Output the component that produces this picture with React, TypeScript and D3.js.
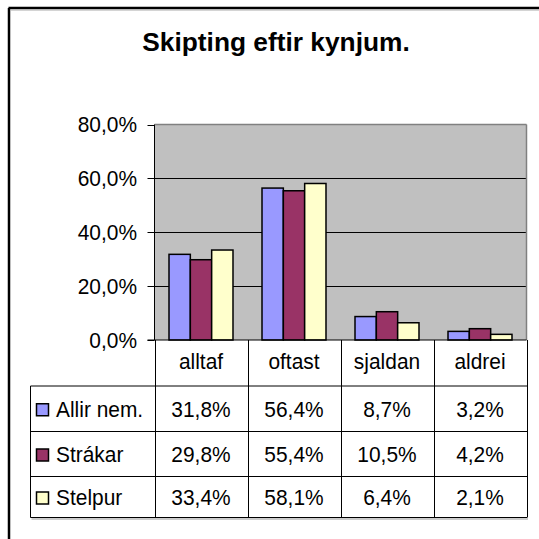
import React from "react";
import * as d3 from "d3";

const title = "Skipting eftir kynjum.";
const categories = ["alltaf", "oftast", "sjaldan", "aldrei"];
const seriesNames = ["Allir nem.", "Strákar", "Stelpur"];
const allirNem = [31.8, 56.4, 8.7, 3.2];
const strakar = [29.8, 55.4, 10.5, 4.2];
const stelpur = [33.4, 58.1, 6.4, 2.1];
const seriesColors = ["#9999FF", "#993366", "#FFFFCC"];
const yTicks = [0, 20, 40, 60, 80];

const seriesValues = [allirNem, strakar, stelpur];

const fmt = (v: number) => v.toFixed(1).replace(".", ",") + "%";

const FS = 22.5;
const SX = 0.93;

function T(props: { x: number; y: number; anchor?: string; children: React.ReactNode; dy?: string }) {
  return (
    <text
      transform={`translate(${props.x},${props.y}) scale(${SX},1)`}
      textAnchor={props.anchor || "start"}
      dy={props.dy}
      fontSize={FS}
    >
      {props.children}
    </text>
  );
}

export default function App() {
  const W = 539;
  const H = 539;
  const plotLeft = 154.5;
  const plotRight = 526.5;
  const plotTop = 124.5;
  const plotBottom = 340;
  const tableLeft = 30.5;
  const rowLines = [386, 431.5, 476.5, 517.5];
  const font = "Arial, 'Liberation Sans', sans-serif";

  const x = d3.scaleBand<string>().domain(categories).range([plotLeft, plotRight]).paddingInner(0).paddingOuter(0);
  const xs = d3
    .scaleBand<string>()
    .domain(seriesNames)
    .range([0, x.bandwidth()])
    .paddingInner(0)
    .paddingOuter(0.68);
  const y = d3.scaleLinear().domain([0, 80]).range([plotBottom, plotTop]);

  const colBounds = [...categories.map((c) => x(c) as number), plotRight];

  return (
    <svg
      width={W}
      height={H}
      style={{ position: "absolute", left: 0, top: 0, background: "#fff" }}
      fontFamily={font}
    >
      {/* outer frame */}
      <line x1={8.5} y1={8} x2={539} y2={8} stroke="#000" strokeWidth={2.5} />
      <line x1={9} y1={8} x2={9} y2={539} stroke="#000" strokeWidth={2.5} />
      <line x1={10.5} y1={10} x2={539} y2={10} stroke="#aaa" strokeWidth={1} />

      <text x={276} y={51} textAnchor="middle" fontSize={26.3} fontWeight="bold">
        {title}
      </text>

      {/* plot area */}
      <rect x={plotLeft} y={plotTop} width={plotRight - plotLeft} height={plotBottom - plotTop} fill="#C0C0C0" />
      {yTicks.map((t) => (
        <g key={t}>
          {t > 0 && t < 80 && (
            <line x1={plotLeft} x2={plotRight} y1={Math.round(y(t)) + 0.5} y2={Math.round(y(t)) + 0.5} stroke="#000" strokeWidth={1} />
          )}
          <line x1={plotLeft - 7} x2={plotLeft} y1={Math.round(y(t)) + 0.5} y2={Math.round(y(t)) + 0.5} stroke="#000" strokeWidth={1} />
          <T x={137} y={y(t)} dy="0.35em" anchor="end">
            {fmt(t)}
          </T>
        </g>
      ))}
      <line x1={plotLeft} x2={plotRight} y1={plotTop} y2={plotTop} stroke="#808080" strokeWidth={1.5} />
      <line x1={plotRight} x2={plotRight} y1={plotTop} y2={plotBottom} stroke="#808080" strokeWidth={1.5} />

      {/* bars */}
      {categories.map((c, ci) =>
        seriesNames.map((s, si) => {
          const v = seriesValues[si][ci];
          const bx = (x(c) as number) + (xs(s) as number);
          return (
            <rect
              key={c + s}
              x={bx}
              y={y(v)}
              width={xs.bandwidth()}
              height={plotBottom - y(v)}
              fill={seriesColors[si]}
              stroke="#000"
              strokeWidth={1.5}
            />
          );
        })
      )}

      <line x1={plotLeft} x2={plotLeft} y1={plotTop} y2={plotBottom} stroke="#000" strokeWidth={1} />
      <line x1={plotLeft - 7} x2={plotRight} y1={plotBottom} y2={plotBottom} stroke="#000" strokeWidth={1.2} />

      {/* data table */}
      {colBounds.map((cx, i) => (
        <line key={"v" + i} x1={Math.round(cx) + 0.5} x2={Math.round(cx) + 0.5} y1={plotBottom} y2={rowLines[3]} stroke="#000" strokeWidth={1} />
      ))}
      <line x1={tableLeft} x2={tableLeft} y1={rowLines[0]} y2={rowLines[3]} stroke="#000" strokeWidth={1} />
      {rowLines.map((ry, i) => (
        <line key={"h" + i} x1={tableLeft} x2={plotRight + 0.5} y1={ry} y2={ry} stroke="#000" strokeWidth={1} />
      ))}
      <line x1={tableLeft + 1} x2={plotRight + 1.5} y1={rowLines[3] + 1.5} y2={rowLines[3] + 1.5} stroke="#999" strokeWidth={1} />

      {categories.map((c) => (
        <T key={"c" + c} x={(x(c) as number) + x.bandwidth() / 2} y={369} anchor="middle">
          {c}
        </T>
      ))}

      {seriesNames.map((s, si) => {
        const rowTop = rowLines[si];
        const rowBot = rowLines[si + 1];
        const base = (rowTop + rowBot) / 2 + 8.3;
        return (
          <g key={"r" + s}>
            <rect x={36.5} y={(rowTop + rowBot) / 2 - 5} width={12} height={12} fill={seriesColors[si]} stroke="#000" strokeWidth={1.5} />
            <T x={56} y={base}>
              {s}
            </T>
            {categories.map((c, ci) => (
              <T key={c} x={(x(c) as number) + x.bandwidth() / 2} y={base} anchor="middle">
                {fmt(seriesValues[si][ci])}
              </T>
            ))}
          </g>
        );
      })}
    </svg>
  );
}
